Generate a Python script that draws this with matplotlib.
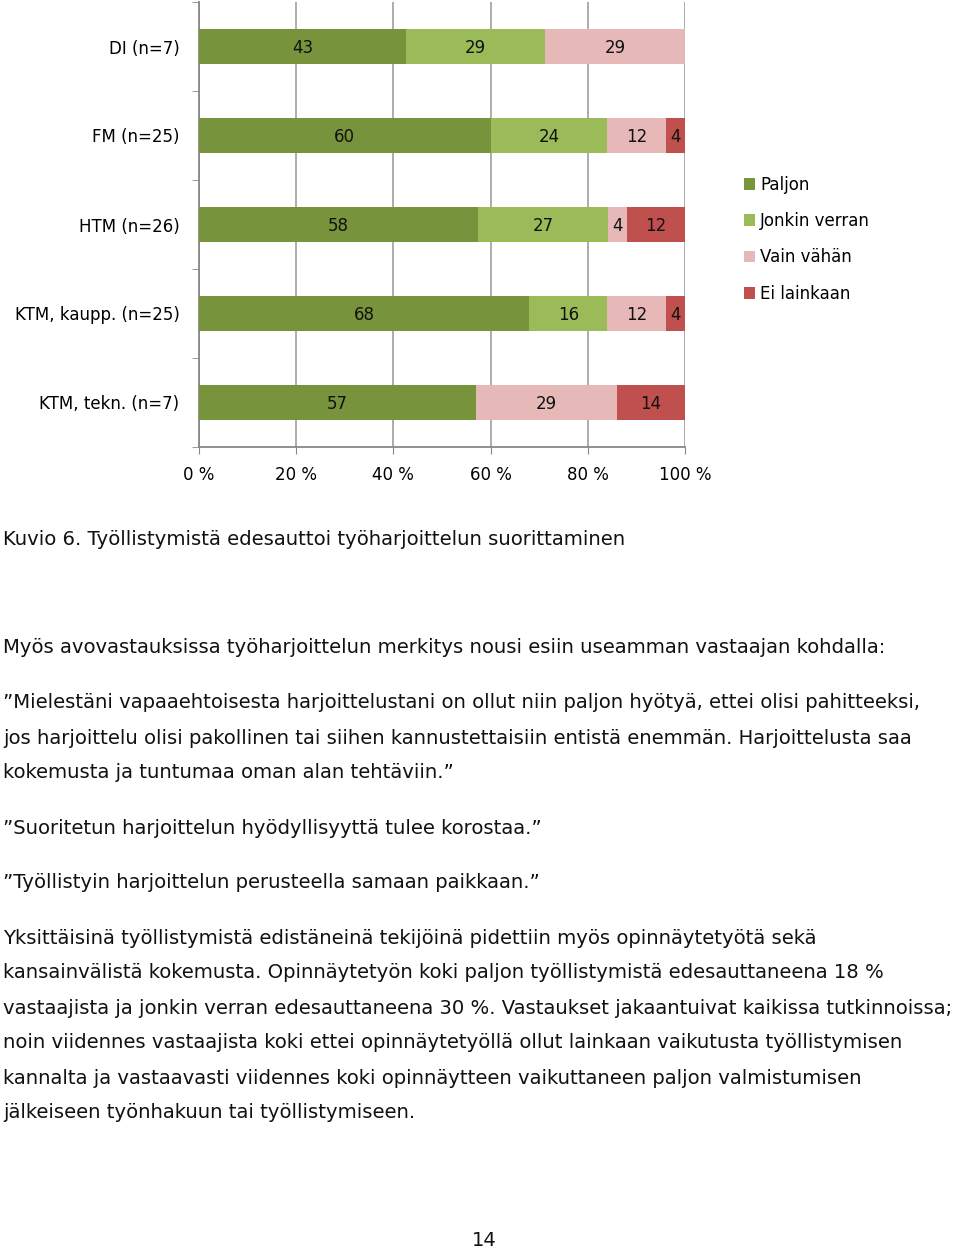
import matplotlib.pyplot as plt
import numpy as np

plt.rcParams['font.family'] = ['DejaVu Sans']

# data
groups = ['DI (n=7)', 'FM (n=25)', 'HTM (n=26)', 'KTM, kaupp. (n=25)', 'KTM, tekn. (n=7)']
series = ['Paljon', 'Jonkin verran', 'Vain vähän', 'Ei lainkaan']
paljon = [43, 60, 58, 68, 57]
jonkin = [29, 24, 27, 16, 0]
vain = [29, 12, 4, 12, 29]
ei = [0, 4, 12, 4, 14]
colors = ['#77933C', '#9BBB59', '#E6B9B8', '#C0504D']
xticks = [0, 20, 40, 60, 80, 100]

W, H = 960, 1249
fig = plt.figure(figsize=(W / 100, H / 100), dpi=100)

def fy(py):
    return 1 - py / H

ax = fig.add_axes([199 / W, fy(447), (685 - 199) / W, (447 - 2) / H])

vals = np.array([paljon, jonkin, vain, ei], dtype=float)
totals = vals.sum(axis=0)
pct = vals / totals * 100
ypos = np.arange(len(groups))[::-1]

left = np.zeros(len(groups))
for i, name in enumerate(series):
    ax.barh(ypos, pct[i], left=left, height=0.4, color=colors[i], label=name, zorder=3)
    for j in range(len(groups)):
        if vals[i, j] > 0:
            ax.text(left[j] + pct[i, j] / 2, ypos[j] - 0.02, '%d' % vals[i, j],
                    ha='center', va='center', fontsize=12, color='#111111', zorder=4)
    left = left + pct[i]

ax.set_xlim(0, 100)
ax.set_ylim(-0.5, len(groups) - 0.5)
ax.set_xticks(xticks)
ax.set_xticklabels(['%d %%' % t for t in xticks], fontsize=12)
ax.set_yticks(ypos)
ax.set_yticklabels(groups, fontsize=12)
ax.set_yticks(np.arange(-0.5, len(groups)), minor=True)
ax.tick_params(axis='y', which='major', length=0, pad=14)
ax.tick_params(axis='y', which='minor', length=5, color='#888888')
ax.tick_params(axis='x', length=5, color='#888888', pad=8.5)
ax.grid(axis='x', color='#A6A6A6', linewidth=1.3, zorder=0)
ax.set_axisbelow(True)
for s in ['top', 'right']:
    ax.spines[s].set_visible(False)
for s in ['left', 'bottom']:
    ax.spines[s].set_color('#888888')
    ax.spines[s].set_linewidth(1.3)

ax.legend(loc='upper left', bbox_to_anchor=(737 / W, fy(169)), bbox_transform=fig.transFigure,
          frameon=False, fontsize=12, handlelength=0.7, handleheight=0.7,
          handletextpad=0.3, labelspacing=1.1, borderaxespad=0)

lines = [
    (540, 'Kuvio 6. Työllistymistä edesauttoi työharjoittelun suorittaminen'),
    (648, 'Myös avovastauksissa työharjoittelun merkitys nousi esiin useamman vastaajan kohdalla:'),
    (703, '”Mielestäni vapaaehtoisesta harjoittelustani on ollut niin paljon hyötyä, ettei olisi pahitteeksi,'),
    (738, 'jos harjoittelu olisi pakollinen tai siihen kannustettaisiin entistä enemmän. Harjoittelusta saa'),
    (772, 'kokemusta ja tuntumaa oman alan tehtäviin.”'),
    (828, '”Suoritetun harjoittelun hyödyllisyyttä tulee korostaa.”'),
    (883, '”Työllistyin harjoittelun perusteella samaan paikkaan.”'),
    (939, 'Yksittäisinä työllistymistä edistäneinä tekijöinä pidettiin myös opinnäytetyötä sekä'),
    (973, 'kansainvälistä kokemusta. Opinnäytetyön koki paljon työllistymistä edesauttaneena 18 %'),
    (1008, 'vastaajista ja jonkin verran edesauttaneena 30 %. Vastaukset jakaantuivat kaikissa tutkinnoissa;'),
    (1043, 'noin viidennes vastaajista koki ettei opinnäytetyöllä ollut lainkaan vaikutusta työllistymisen'),
    (1078, 'kannalta ja vastaavasti viidennes koki opinnäytteen vaikuttaneen paljon valmistumisen'),
    (1112, 'jälkeiseen työnhakuun tai työllistymiseen.'),
]
for py, txt in lines:
    fig.text(3 / W, fy(py), txt, ha='left', va='center', fontsize=14.15, color='#111111')

fig.text(484 / W, fy(1240), '14', ha='center', va='center', fontsize=14, color='#111111')

fig.savefig('out.png', dpi=100)
